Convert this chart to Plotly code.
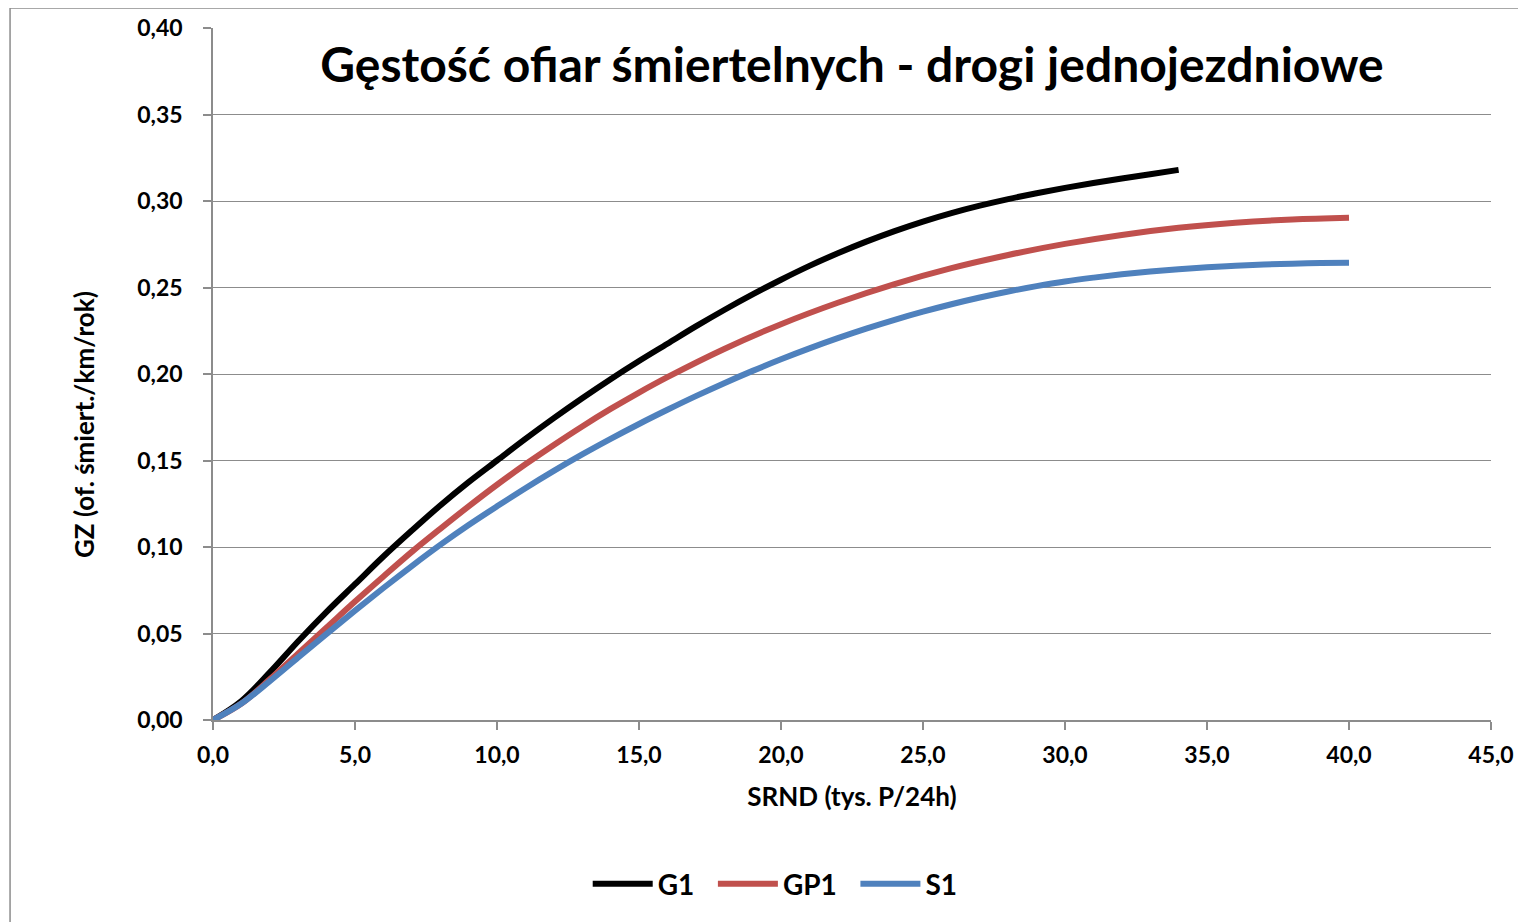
import plotly.graph_objects as go

# values (SRND in thousands of vehicles / 24h)
x_g1 = [0, 1, 2, 3, 4, 5, 6, 7, 8, 9, 10, 11, 12, 13, 14, 15, 16, 17, 18, 19, 20,
        21, 22, 23, 24, 25, 26, 27, 28, 29, 30, 31, 32, 33, 34]
y_g1 = [0.0, 0.011, 0.0275, 0.0455, 0.0625, 0.0785, 0.0945, 0.1095, 0.124, 0.1375, 0.150,
        0.1625, 0.1745, 0.186, 0.197, 0.2075, 0.2175, 0.2275, 0.237, 0.246, 0.2545,
        0.2625, 0.2698, 0.2765, 0.2826, 0.2881, 0.293, 0.2973, 0.3011, 0.3045, 0.3076,
        0.3104, 0.313, 0.3155, 0.318]

x_gp1 = [0, 1, 2, 3, 4, 5, 6, 7, 8, 9, 10, 11, 12, 13, 14, 15, 16, 18, 20, 22, 24,
         26, 28, 30, 32, 34, 36, 38, 40]
y_gp1 = [0.0, 0.0095, 0.0235, 0.0385, 0.0535, 0.0685, 0.083, 0.0972, 0.1105, 0.1235,
         0.136, 0.1478, 0.159, 0.1697, 0.1798, 0.1893, 0.1982, 0.2145, 0.2288, 0.2412,
         0.252, 0.2612, 0.2688, 0.2752, 0.2804, 0.2845, 0.2874, 0.2893, 0.2903]

x_s1 = [0, 1, 2, 3, 4, 5, 6, 7, 8, 9, 10, 11, 12, 13, 14, 15, 16, 17, 18, 19, 20,
        21, 22, 23, 24, 25, 26, 27, 28, 29, 30, 31, 32, 33, 34, 35, 36, 37, 38, 39, 40]
y_s1 = [0.0, 0.0095, 0.0225, 0.0362, 0.0498, 0.0632, 0.0763, 0.089, 0.1012, 0.1127,
        0.1235, 0.134, 0.144, 0.1535, 0.1625, 0.1711, 0.1793, 0.1872, 0.1947, 0.2018,
        0.2085, 0.2148, 0.2207, 0.2262, 0.2313, 0.236, 0.2403, 0.2442, 0.2477, 0.2508,
        0.2535, 0.2557, 0.2576, 0.2592, 0.2606, 0.2617, 0.2626, 0.2633, 0.2638, 0.2641,
        0.2643]

series = [
    ('G1', x_g1, y_g1, '#000000'),
    ('GP1', x_gp1, y_gp1, '#C0504D'),
    ('S1', x_s1, y_s1, '#4F81BD'),
]

title_text = 'Gęstość ofiar śmiertelnych - drogi jednojezdniowe'
x_title = 'SRND (tys. P/24h)'
y_title = 'GZ (of. śmiert./km/rok)'

FONT = 'Lato'
GRID = '#8c8c8c'

fig = go.Figure()
for name, xs, ys, color in series:
    # nbsp padding widens the gap between legend entries like in the original
    fig.add_trace(go.Scatter(x=xs, y=ys, mode='lines', name=name + '\u00a0\u00a0',
                             line=dict(color=color, width=6, shape='spline')))

# the page has an 8px body margin, so the figure is a bit smaller than the window
fig.update_layout(
    width=1518, height=914,
    margin=dict(l=205, r=35, t=20, b=202, autoexpand=False),
    paper_bgcolor='white', plot_bgcolor='white',
    separators=', ',
    font=dict(family=FONT, color='#000000', size=20),
    title=dict(text='<b>' + title_text + '</b>', x=0.5, xref='paper',
               y=1 - 57 / 914, yref='container', xanchor='center', yanchor='middle',
               font=dict(family=FONT, size=48, color='#000000')),
    showlegend=True,
    legend=dict(orientation='h', x=0.445, xanchor='center', y=-0.237, yanchor='middle',
                font=dict(family=FONT, size=28, color='#000000', weight='bold'),
                itemwidth=60, tracegroupgap=0),
    shapes=[dict(type='rect', xref='paper', yref='paper',
                 x0=-0.1588, x1=1.06, y0=-0.32, y1=1.0289,
                 line=dict(color=GRID, width=1.5), layer='below')],
    annotations=[dict(text='<b>' + y_title + '</b>', textangle=-90,
                      xref='paper', yref='paper', x=-0.1009, y=0.4263,
                      xanchor='center', yanchor='middle', showarrow=False,
                      font=dict(family=FONT, size=26, color='#000000'))],
)

fig.update_xaxes(range=[0, 45], dtick=5, tick0=0, tickformat='.1f',
                 showgrid=False, zeroline=False, automargin=False,
                 showline=True, linecolor=GRID, linewidth=1.5,
                 ticks='outside', ticklen=8, tickcolor=GRID, tickwidth=1.5,
                 ticklabelstandoff=6,
                 tickfont=dict(family=FONT, size=23, color='#000000', weight='bold'),
                 title=dict(text='<b>' + x_title + '</b>', standoff=20,
                            font=dict(family=FONT, size=26, color='#000000')))

fig.update_yaxes(range=[0, 0.4], dtick=0.05, tick0=0, tickformat='.2f',
                 showgrid=True, gridcolor=GRID, gridwidth=1.2, zeroline=False,
                 automargin=False,
                 showline=True, linecolor=GRID, linewidth=1.5,
                 ticks='outside', ticklen=8, tickcolor=GRID, tickwidth=1.5,
                 ticklabelstandoff=16,
                 tickfont=dict(family=FONT, size=23, color='#000000', weight='bold'))

fig.write_html('out.html')
